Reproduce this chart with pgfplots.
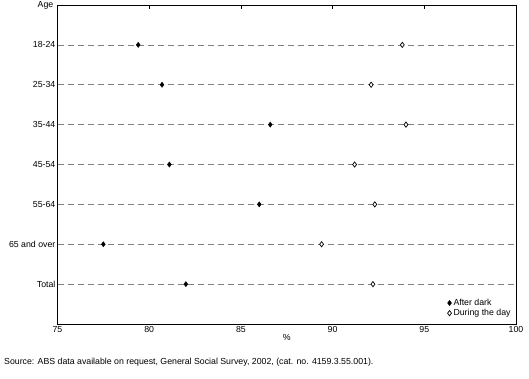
\documentclass[border=0pt]{standalone}
\usepackage{pgfplots}
\pgfplotsset{compat=1.18}
\usepackage{fontspec}
\setmainfont{Liberation Sans}
\begin{document}
\fontsize{8.8}{10.4}\selectfont
\begin{tikzpicture}[x=1bp,y=1bp]
\path[use as bounding box] (0,0) rectangle (529,378);
\begin{axis}[
  at={(57.5bp,54bp)}, anchor=south west,
  scale only axis, width=458.5bp, height=319bp,
  xmin=75, xmax=100, ymin=0, ymax=8, y dir=reverse,
  xtick={75,80,85,90,95,100},
  xtick pos=upper, xticklabel pos=lower,
  tick align=inside, major tick length=4bp,
  ytick={1,2,3,4,5,6,7},
  yticklabels={18-24,25-34,35-44,45-54,55-64,65 and over,Total},
  ytick style={draw=none},
  ymajorgrids, major grid style={gray, dash pattern=on 6bp off 4bp, line width=0.7bp},
  axis line style={line width=0.9bp},
  tick style={line width=0.8bp, black},
  /pgf/number format/assume math mode=true,
  tick label style={font=\fontsize{8.8}{10.4}\selectfont},
  xticklabel style={yshift=1bp},
  yticklabel style={xshift=1bp},
  xlabel={\%}, xlabel style={yshift=4bp},
  legend style={draw=none, fill=none, at={(0.995,0.012)}, anchor=south east, font=\fontsize{8.8}{10.4}\selectfont, row sep=-1.5bp, inner sep=1bp},
  legend cell align=left,
  clip=false,
]
\addplot[only marks, mark=diamond*, mark size=2.6bp, mark options={fill=black, draw=black}] coordinates {
(79.4,1) (80.7,2) (86.6,3) (81.1,4) (86.0,5) (77.5,6) (82.0,7)};
\addlegendentry{After dark}
\addplot[only marks, mark=diamond*, mark size=2.6bp, mark options={fill=white, draw=black, line width=0.7bp}] coordinates {
(93.8,1) (92.1,2) (94.0,3) (91.2,4) (92.3,5) (89.4,6) (92.2,7)};
\addlegendentry{During the day}
\node[anchor=east, inner sep=0pt, xshift=-4bp] at (axis cs:75,0) {Age};
\end{axis}
\node[anchor=west, inner sep=0pt] at (4,16) {Source: ABS data available on request, General Social Survey, 2002, (cat. no. 4159.3.55.001).};
\end{tikzpicture}
\end{document}
